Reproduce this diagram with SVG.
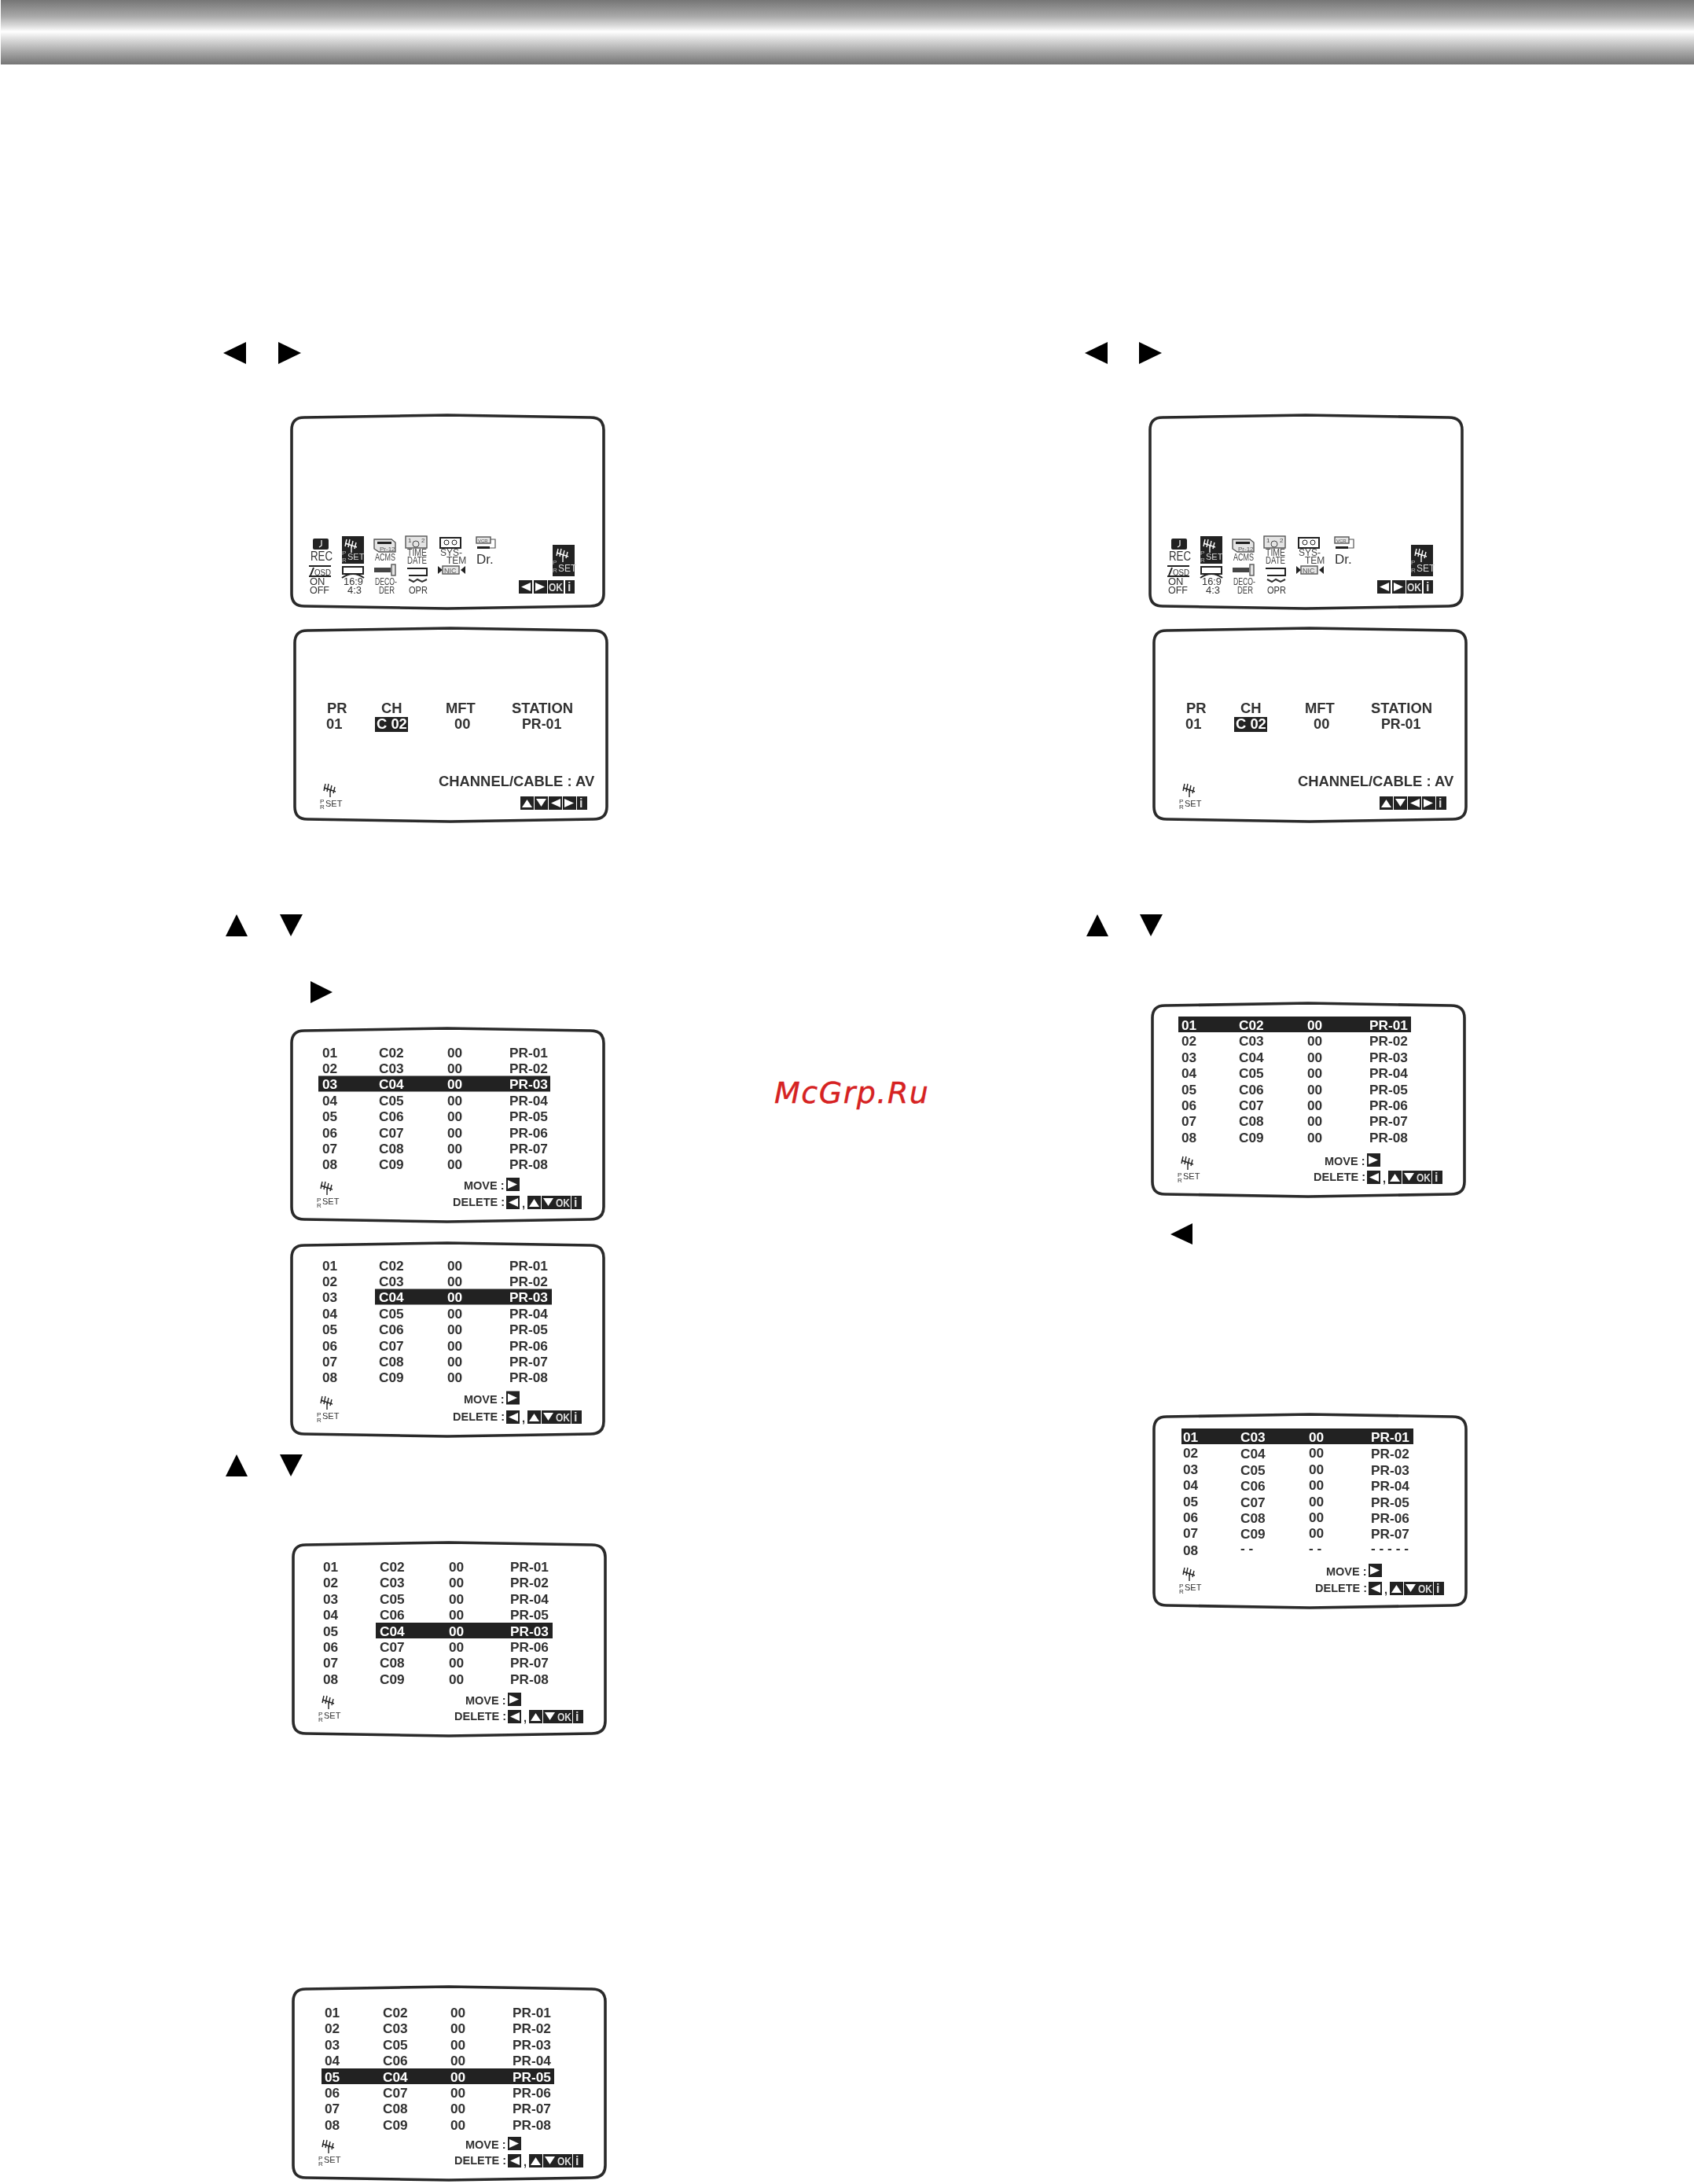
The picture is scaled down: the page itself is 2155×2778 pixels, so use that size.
<svg xmlns="http://www.w3.org/2000/svg" xmlns:xlink="http://www.w3.org/1999/xlink" width="2155" height="2778" viewBox="0 0 2155 2778">
<style>
text{font-family:"Liberation Sans",Arial,sans-serif;fill:#303030}
.f{fill:#fff;stroke:#2a2a2a;stroke-width:3.6;stroke-linejoin:round}
.r{font-size:17.3px;font-weight:700}
.w{fill:#fff}
.m{font-size:14.5px;font-weight:700}
.h{font-size:18.4px;font-weight:700}
.t{font-size:11px}
.p{font-size:8px}
.k{fill:#222}
.ow{font-size:15px;font-weight:700;fill:#ddd}
.iw{font-size:16px;font-weight:700;fill:#ddd}
.ic{font-size:13px;fill:#333}
.lt{font-size:12px;fill:#444}
.ln{fill:none;stroke:#222;stroke-width:2}
.lg{fill:#e4e4e4;stroke:#555;stroke-width:1.4}
</style>
<defs>
<linearGradient id="band" x1="0" y1="0" x2="0" y2="1">
<stop offset="0" stop-color="#757575"/><stop offset=".25" stop-color="#a8a8a8"/><stop offset=".41" stop-color="#dedede"/><stop offset=".49" stop-color="#fff"/><stop offset=".6" stop-color="#dedede"/><stop offset=".8" stop-color="#a8a8a8"/><stop offset="1" stop-color="#757575"/>
</linearGradient>
<filter id="soft" x="-2%" y="-2%" width="104%" height="104%"><feGaussianBlur stdDeviation="0.55"/></filter>
<path id="frame" class="f" d="M17 5L199 2L381 5Q398 5 398 21L398 229Q398 245 381 245L199 248L17 245Q1 245 1 229L1 21Q1 5 17 5Z"/>
<g id="ant" fill="none" stroke="currentColor" stroke-width="1.4"><path d="M1 8L16 13M9 10V20M3 3L1 12M7 3L5 13M11 5L9 14M15 7L13 15"/></g>
<g id="bU"><rect class="k" width="17" height="17"/><polygon class="w" points="2,14 8.5,4 15,14"/></g>
<g id="bD"><rect class="k" width="17" height="17"/><polygon class="w" points="2,3 15,3 8.5,13"/></g>
<g id="bL"><rect class="k" width="17" height="17"/><polygon class="w" points="15,3 15,14 3,8.5"/></g>
<g id="bR"><rect class="k" width="17" height="17"/><polygon class="w" points="2,3 2,14 14,8.5"/></g>
</defs>
<rect id="header-band" x="1" y="0" width="2154" height="82" fill="url(#band)"/>
<g id="arrows" fill="#000">
<polygon points="313,435 313,463 284,449"/><polygon points="354,435 354,463 383,449"/>
<polygon points="1409,435 1409,463 1380,449"/><polygon points="1449,435 1449,463 1478,449"/>
<polygon points="287,1191 315,1191 301,1163"/><polygon points="356,1163 385,1163 370,1191"/>
<polygon points="1382,1191 1410,1191 1396,1163"/><polygon points="1450,1163 1479,1163 1464,1191"/>
<polygon points="395,1248 395,1276 423,1262"/>
<polygon points="1517,1556 1517,1583 1489,1570"/>
<polygon points="287,1878 315,1878 301,1850"/><polygon points="356,1850 385,1850 370,1878"/>
</g>
<text id="watermark" x="985" y="1403" style="font-family:'DejaVu Sans',sans-serif;font-style:oblique;font-size:38px;letter-spacing:1.5px;fill:#d62222;stroke:#d62222;stroke-width:.4">McGrp.Ru</text>

<g id="menu-left" transform="translate(370,526)" filter="url(#soft)">
<use href="#frame"/>
<rect class="k" x="28" y="159" width="20" height="14" rx="2"/><path d="M39 161V168L36 170" fill="none" stroke="#fff" stroke-width="1.2"/>
<text class="ic" x="25" y="187" style="font-size:16px" textLength="28" lengthAdjust="spacingAndGlyphs">REC</text>
<rect class="k" x="65" y="156" width="28" height="35"/><use href="#ant" x="68" y="157" color="#fff"/>
<text class="p" x="65" y="180" style="fill:#bbb">P</text><text class="p" x="65" y="189" style="fill:#bbb">R</text><text class="t" x="72" y="186" style="fill:#ddd">SET</text>
<path class="lg" d="M106 160H128L133 164V176H112L106 172Z"/><rect class="k" x="110" y="163" width="18" height="3"/>
<text x="113" y="175" style="font-size:8px;fill:#555">Pr-12</text>
<text class="lt" x="107" y="187" textLength="26" lengthAdjust="spacingAndGlyphs">ACMS</text>
<rect class="lg" x="146" y="156" width="27" height="15"/><circle cx="159" cy="166" r="4" fill="none" stroke="#444"/>
<text x="149" y="164" style="font-size:8px;fill:#444">1</text><text x="166" y="164" style="font-size:8px;fill:#444">2</text>
<text class="lt" x="148" y="181" textLength="25" lengthAdjust="spacingAndGlyphs">TIME</text>
<text class="lt" x="148" y="191" textLength="25" lengthAdjust="spacingAndGlyphs">DATE</text>
<rect class="ln" x="190" y="158" width="26" height="13"/><circle cx="198" cy="164" r="3" fill="none" stroke="#222"/><circle cx="208" cy="164" r="3" fill="none" stroke="#222"/>
<text class="lt" x="190" y="181">SYS-</text><text class="lt" x="198" y="191">TEM</text>
<rect class="lg" x="236" y="157" width="18" height="8"/><text x="238" y="164" style="font-size:6px;fill:#555">VCR</text>
<path d="M254 160H260V171H252" fill="none" stroke="#555" stroke-width="1.2"/><rect class="k" x="237" y="169" width="16" height="3"/>
<text x="236" y="191" style="font-size:17px;fill:#333">Dr.</text>
<path class="ln" d="M23 194H51M23 207H51M25 206L29 196"/>
<text x="30" y="206" style="font-size:10px" textLength="21" lengthAdjust="spacingAndGlyphs">OSD</text>
<text class="ic" x="24" y="218">ON</text><text class="ic" x="24" y="229" textLength="25" lengthAdjust="spacingAndGlyphs">OFF</text>
<rect class="ln" x="66" y="195" width="26" height="9"/><path class="ln" d="M65 209Q79 199 93 209" stroke-width="1.6"/>
<text class="ic" x="67" y="218" textLength="25" lengthAdjust="spacingAndGlyphs">16:9</text><text class="ic" x="72" y="229">4:3</text>
<rect x="106" y="196" width="21" height="6" fill="#444"/><rect class="lg" x="128" y="192" width="5" height="14"/>
<text class="lt" x="107" y="218" textLength="28" lengthAdjust="spacingAndGlyphs">DECO-</text><text class="lt" x="112" y="229" textLength="20" lengthAdjust="spacingAndGlyphs">DER</text>
<path class="ln" d="M150 197H173V206H150M158 197H148" stroke-width="1.6"/><path d="M150 211L156 214L161 211L167 214L173 211" fill="none" stroke="#333" stroke-width="2"/>
<text class="ic" x="150" y="229" textLength="24" lengthAdjust="spacingAndGlyphs">OPR</text>
<polygon class="k" points="187,194 193,199 187,204"/><polygon class="k" points="222,194 216,199 222,204"/>
<rect class="lg" x="193" y="194" width="21" height="10"/><text x="195" y="203" style="font-size:9px;fill:#555">NIC</text>
<rect class="k" x="333" y="167" width="28" height="40"/><use href="#ant" x="337" y="169" color="#fff"/>
<text class="p" x="333" y="192" style="fill:#bbb">P</text><text class="p" x="333" y="202" style="fill:#bbb">R</text><text class="t" x="340" y="201" style="fill:#ddd;font-size:12px">SET</text>
<use href="#bL" x="290" y="212"/><use href="#bR" x="309" y="212"/>
<rect class="k" x="327" y="212" width="20" height="17"/><text class="ow" x="328" y="226" textLength="18" lengthAdjust="spacingAndGlyphs">OK</text>
<rect class="k" x="349" y="212" width="12" height="17"/><text class="iw" x="352" y="226">i</text>
</g>

<g id="menu-right" transform="translate(1462,526)" filter="url(#soft)">
<use href="#frame"/>
<rect class="k" x="28" y="159" width="20" height="14" rx="2"/><path d="M39 161V168L36 170" fill="none" stroke="#fff" stroke-width="1.2"/>
<text class="ic" x="25" y="187" style="font-size:16px" textLength="28" lengthAdjust="spacingAndGlyphs">REC</text>
<rect class="k" x="65" y="156" width="28" height="35"/><use href="#ant" x="68" y="157" color="#fff"/>
<text class="p" x="65" y="180" style="fill:#bbb">P</text><text class="p" x="65" y="189" style="fill:#bbb">R</text><text class="t" x="72" y="186" style="fill:#ddd">SET</text>
<path class="lg" d="M106 160H128L133 164V176H112L106 172Z"/><rect class="k" x="110" y="163" width="18" height="3"/>
<text x="113" y="175" style="font-size:8px;fill:#555">Pr-12</text>
<text class="lt" x="107" y="187" textLength="26" lengthAdjust="spacingAndGlyphs">ACMS</text>
<rect class="lg" x="146" y="156" width="27" height="15"/><circle cx="159" cy="166" r="4" fill="none" stroke="#444"/>
<text x="149" y="164" style="font-size:8px;fill:#444">1</text><text x="166" y="164" style="font-size:8px;fill:#444">2</text>
<text class="lt" x="148" y="181" textLength="25" lengthAdjust="spacingAndGlyphs">TIME</text>
<text class="lt" x="148" y="191" textLength="25" lengthAdjust="spacingAndGlyphs">DATE</text>
<rect class="ln" x="190" y="158" width="26" height="13"/><circle cx="198" cy="164" r="3" fill="none" stroke="#222"/><circle cx="208" cy="164" r="3" fill="none" stroke="#222"/>
<text class="lt" x="190" y="181">SYS-</text><text class="lt" x="198" y="191">TEM</text>
<rect class="lg" x="236" y="157" width="18" height="8"/><text x="238" y="164" style="font-size:6px;fill:#555">VCR</text>
<path d="M254 160H260V171H252" fill="none" stroke="#555" stroke-width="1.2"/><rect class="k" x="237" y="169" width="16" height="3"/>
<text x="236" y="191" style="font-size:17px;fill:#333">Dr.</text>
<path class="ln" d="M23 194H51M23 207H51M25 206L29 196"/>
<text x="30" y="206" style="font-size:10px" textLength="21" lengthAdjust="spacingAndGlyphs">OSD</text>
<text class="ic" x="24" y="218">ON</text><text class="ic" x="24" y="229" textLength="25" lengthAdjust="spacingAndGlyphs">OFF</text>
<rect class="ln" x="66" y="195" width="26" height="9"/><path class="ln" d="M65 209Q79 199 93 209" stroke-width="1.6"/>
<text class="ic" x="67" y="218" textLength="25" lengthAdjust="spacingAndGlyphs">16:9</text><text class="ic" x="72" y="229">4:3</text>
<rect x="106" y="196" width="21" height="6" fill="#444"/><rect class="lg" x="128" y="192" width="5" height="14"/>
<text class="lt" x="107" y="218" textLength="28" lengthAdjust="spacingAndGlyphs">DECO-</text><text class="lt" x="112" y="229" textLength="20" lengthAdjust="spacingAndGlyphs">DER</text>
<path class="ln" d="M150 197H173V206H150M158 197H148" stroke-width="1.6"/><path d="M150 211L156 214L161 211L167 214L173 211" fill="none" stroke="#333" stroke-width="2"/>
<text class="ic" x="150" y="229" textLength="24" lengthAdjust="spacingAndGlyphs">OPR</text>
<polygon class="k" points="187,194 193,199 187,204"/><polygon class="k" points="222,194 216,199 222,204"/>
<rect class="lg" x="193" y="194" width="21" height="10"/><text x="195" y="203" style="font-size:9px;fill:#555">NIC</text>
<rect class="k" x="333" y="167" width="28" height="40"/><use href="#ant" x="337" y="169" color="#fff"/>
<text class="p" x="333" y="192" style="fill:#bbb">P</text><text class="p" x="333" y="202" style="fill:#bbb">R</text><text class="t" x="340" y="201" style="fill:#ddd;font-size:12px">SET</text>
<use href="#bL" x="290" y="212"/><use href="#bR" x="309" y="212"/>
<rect class="k" x="327" y="212" width="20" height="17"/><text class="ow" x="328" y="226" textLength="18" lengthAdjust="spacingAndGlyphs">OK</text>
<rect class="k" x="349" y="212" width="12" height="17"/><text class="iw" x="352" y="226">i</text>
</g>

<g id="manual-left" transform="translate(374,797)" filter="url(#soft)">
<use href="#frame"/>
<text class="h" x="42" y="110">PR</text><text class="h" x="111" y="110">CH</text><text class="h" x="193" y="110">MFT</text><text class="h" x="277" y="110">STATION</text>
<text class="h" x="41" y="130">01</text><rect class="k" x="103" y="115" width="42" height="19"/><text class="h w" x="105" y="130">C 02</text><text class="h" x="204" y="130">00</text><text class="h" x="290" y="130" style="font-size:17.8px">PR-01</text>
<text class="h" x="184" y="203" style="fill:#333">CHANNEL/CABLE : AV</text>
<use href="#ant" x="37" y="197" color="#222"/><text class="p" x="33" y="225">P</text><text class="p" x="33" y="232">R</text><text class="t" x="40" y="229">SET</text>
<use href="#bU" x="288" y="216"/><use href="#bD" x="306" y="216"/><use href="#bL" x="324" y="216"/><use href="#bR" x="342" y="216"/>
<rect class="k" x="360" y="216" width="13" height="17"/><text class="iw" x="363" y="230">i</text>
</g>

<g id="manual-right" transform="translate(1467,797)" filter="url(#soft)">
<use href="#frame"/>
<text class="h" x="42" y="110">PR</text><text class="h" x="111" y="110">CH</text><text class="h" x="193" y="110">MFT</text><text class="h" x="277" y="110">STATION</text>
<text class="h" x="41" y="130">01</text><rect class="k" x="103" y="115" width="42" height="19"/><text class="h w" x="105" y="130">C 02</text><text class="h" x="204" y="130">00</text><text class="h" x="290" y="130" style="font-size:17.8px">PR-01</text>
<text class="h" x="184" y="203" style="fill:#333">CHANNEL/CABLE : AV</text>
<use href="#ant" x="37" y="197" color="#222"/><text class="p" x="33" y="225">P</text><text class="p" x="33" y="232">R</text><text class="t" x="40" y="229">SET</text>
<use href="#bU" x="288" y="216"/><use href="#bD" x="306" y="216"/><use href="#bL" x="324" y="216"/><use href="#bR" x="342" y="216"/>
<rect class="k" x="360" y="216" width="13" height="17"/><text class="iw" x="363" y="230">i</text>
</g>

<g id="list-c" transform="translate(370,1306)" filter="url(#soft)">
<use href="#frame"/>
<rect class="k" x="35" y="62.5" width="295" height="20"/>
<text class="r" x="40" y="38.5">01</text><text class="r" x="112" y="38.5">C02</text><text class="r" x="199" y="38.5">00</text><text class="r" x="278" y="38.5">PR-01</text>
<text class="r" x="40" y="58.9">02</text><text class="r" x="112" y="58.9">C03</text><text class="r" x="199" y="58.9">00</text><text class="r" x="278" y="58.9">PR-02</text>
<text class="r w" x="40" y="79.3">03</text><text class="r w" x="112" y="79.3">C04</text><text class="r w" x="199" y="79.3">00</text><text class="r w" x="278" y="79.3">PR-03</text>
<text class="r" x="40" y="99.7">04</text><text class="r" x="112" y="99.7">C05</text><text class="r" x="199" y="99.7">00</text><text class="r" x="278" y="99.7">PR-04</text>
<text class="r" x="40" y="120.1">05</text><text class="r" x="112" y="120.1">C06</text><text class="r" x="199" y="120.1">00</text><text class="r" x="278" y="120.1">PR-05</text>
<text class="r" x="40" y="140.5">06</text><text class="r" x="112" y="140.5">C07</text><text class="r" x="199" y="140.5">00</text><text class="r" x="278" y="140.5">PR-06</text>
<text class="r" x="40" y="160.9">07</text><text class="r" x="112" y="160.9">C08</text><text class="r" x="199" y="160.9">00</text><text class="r" x="278" y="160.9">PR-07</text>
<text class="r" x="40" y="181.3">08</text><text class="r" x="112" y="181.3">C09</text><text class="r" x="199" y="181.3">00</text><text class="r" x="278" y="181.3">PR-08</text>
<use href="#ant" x="37" y="194" color="#222"/><text class="p" x="33" y="223">P</text><text class="p" x="33" y="230">R</text><text class="t" x="40" y="226">SET</text>
<text class="m" x="220" y="207">MOVE :</text><use href="#bR" x="274" y="192"/>
<text class="m" x="206" y="228">DELETE :</text><use href="#bL" x="274" y="215"/><text class="m" x="294" y="230">,</text>
<use href="#bU" x="301" y="215"/><use href="#bD" x="319" y="215"/><rect class="k" x="336" y="215" width="20" height="17"/><text class="ow" x="337" y="229" textLength="18" lengthAdjust="spacingAndGlyphs">OK</text><rect class="k" x="357" y="215" width="13" height="17"/><text class="iw" x="360" y="229">i</text>
</g>

<g id="list-d" transform="translate(370,1579)" filter="url(#soft)">
<use href="#frame"/>
<rect class="k" x="107" y="60.5" width="225" height="20"/>
<text class="r" x="40" y="36.5">01</text><text class="r" x="112" y="36.5">C02</text><text class="r" x="199" y="36.5">00</text><text class="r" x="278" y="36.5">PR-01</text>
<text class="r" x="40" y="56.9">02</text><text class="r" x="112" y="56.9">C03</text><text class="r" x="199" y="56.9">00</text><text class="r" x="278" y="56.9">PR-02</text>
<text class="r" x="40" y="77.3">03</text><text class="r w" x="112" y="77.3">C04</text><text class="r w" x="199" y="77.3">00</text><text class="r w" x="278" y="77.3">PR-03</text>
<text class="r" x="40" y="97.7">04</text><text class="r" x="112" y="97.7">C05</text><text class="r" x="199" y="97.7">00</text><text class="r" x="278" y="97.7">PR-04</text>
<text class="r" x="40" y="118.1">05</text><text class="r" x="112" y="118.1">C06</text><text class="r" x="199" y="118.1">00</text><text class="r" x="278" y="118.1">PR-05</text>
<text class="r" x="40" y="138.5">06</text><text class="r" x="112" y="138.5">C07</text><text class="r" x="199" y="138.5">00</text><text class="r" x="278" y="138.5">PR-06</text>
<text class="r" x="40" y="158.9">07</text><text class="r" x="112" y="158.9">C08</text><text class="r" x="199" y="158.9">00</text><text class="r" x="278" y="158.9">PR-07</text>
<text class="r" x="40" y="179.3">08</text><text class="r" x="112" y="179.3">C09</text><text class="r" x="199" y="179.3">00</text><text class="r" x="278" y="179.3">PR-08</text>
<use href="#ant" x="37" y="194" color="#222"/><text class="p" x="33" y="223">P</text><text class="p" x="33" y="230">R</text><text class="t" x="40" y="226">SET</text>
<text class="m" x="220" y="205.500">MOVE :</text><use href="#bR" x="274" y="190.500"/>
<text class="m" x="206" y="228">DELETE :</text><use href="#bL" x="274" y="215"/><text class="m" x="294" y="230">,</text>
<use href="#bU" x="301" y="215"/><use href="#bD" x="319" y="215"/><rect class="k" x="336" y="215" width="20" height="17"/><text class="ow" x="337" y="229" textLength="18" lengthAdjust="spacingAndGlyphs">OK</text><rect class="k" x="357" y="215" width="13" height="17"/><text class="iw" x="360" y="229">i</text>
</g>

<g id="list-e" transform="translate(372,1960)" filter="url(#soft)">
<use href="#frame"/>
<rect class="k" x="106" y="104" width="225" height="20"/>
<text class="r" x="39" y="39">01</text><text class="r" x="111" y="39">C02</text><text class="r" x="199" y="39">00</text><text class="r" x="277" y="39">PR-01</text>
<text class="r" x="39" y="59.4">02</text><text class="r" x="111" y="59.4">C03</text><text class="r" x="199" y="59.4">00</text><text class="r" x="277" y="59.4">PR-02</text>
<text class="r" x="39" y="79.8">03</text><text class="r" x="111" y="79.8">C05</text><text class="r" x="199" y="79.8">00</text><text class="r" x="277" y="79.8">PR-04</text>
<text class="r" x="39" y="100.2">04</text><text class="r" x="111" y="100.2">C06</text><text class="r" x="199" y="100.2">00</text><text class="r" x="277" y="100.2">PR-05</text>
<text class="r" x="39" y="120.6">05</text><text class="r w" x="111" y="120.6">C04</text><text class="r w" x="199" y="120.6">00</text><text class="r w" x="277" y="120.6">PR-03</text>
<text class="r" x="39" y="141">06</text><text class="r" x="111" y="141">C07</text><text class="r" x="199" y="141">00</text><text class="r" x="277" y="141">PR-06</text>
<text class="r" x="39" y="161.4">07</text><text class="r" x="111" y="161.4">C08</text><text class="r" x="199" y="161.4">00</text><text class="r" x="277" y="161.4">PR-07</text>
<text class="r" x="39" y="181.8">08</text><text class="r" x="111" y="181.8">C09</text><text class="r" x="199" y="181.8">00</text><text class="r" x="277" y="181.8">PR-08</text>
<use href="#ant" x="37" y="194" color="#222"/><text class="p" x="33" y="223">P</text><text class="p" x="33" y="230">R</text><text class="t" x="40" y="226">SET</text>
<text class="m" x="220" y="208">MOVE :</text><use href="#bR" x="274" y="193"/>
<text class="m" x="206" y="228">DELETE :</text><use href="#bL" x="274" y="215"/><text class="m" x="294" y="230">,</text>
<use href="#bU" x="301" y="215"/><use href="#bD" x="319" y="215"/><rect class="k" x="336" y="215" width="20" height="17"/><text class="ow" x="337" y="229" textLength="18" lengthAdjust="spacingAndGlyphs">OK</text><rect class="k" x="357" y="215" width="13" height="17"/><text class="iw" x="360" y="229">i</text>
</g>

<g id="list-f" transform="translate(372,2525)" filter="url(#soft)">
<use href="#frame"/>
<rect class="k" x="37" y="106" width="296" height="20"/>
<text class="r" x="41" y="41">01</text><text class="r" x="115" y="41">C02</text><text class="r" x="201" y="41">00</text><text class="r" x="280" y="41">PR-01</text>
<text class="r" x="41" y="61.4">02</text><text class="r" x="115" y="61.4">C03</text><text class="r" x="201" y="61.4">00</text><text class="r" x="280" y="61.4">PR-02</text>
<text class="r" x="41" y="81.8">03</text><text class="r" x="115" y="81.8">C05</text><text class="r" x="201" y="81.8">00</text><text class="r" x="280" y="81.8">PR-03</text>
<text class="r" x="41" y="102.2">04</text><text class="r" x="115" y="102.2">C06</text><text class="r" x="201" y="102.2">00</text><text class="r" x="280" y="102.2">PR-04</text>
<text class="r w" x="41" y="122.6">05</text><text class="r w" x="115" y="122.6">C04</text><text class="r w" x="201" y="122.6">00</text><text class="r w" x="280" y="122.6">PR-05</text>
<text class="r" x="41" y="143">06</text><text class="r" x="115" y="143">C07</text><text class="r" x="201" y="143">00</text><text class="r" x="280" y="143">PR-06</text>
<text class="r" x="41" y="163.4">07</text><text class="r" x="115" y="163.4">C08</text><text class="r" x="201" y="163.4">00</text><text class="r" x="280" y="163.4">PR-07</text>
<text class="r" x="41" y="183.8">08</text><text class="r" x="115" y="183.8">C09</text><text class="r" x="201" y="183.8">00</text><text class="r" x="280" y="183.8">PR-08</text>
<use href="#ant" x="37" y="194" color="#222"/><text class="p" x="33" y="223">P</text><text class="p" x="33" y="230">R</text><text class="t" x="40" y="226">SET</text>
<text class="m" x="220" y="208">MOVE :</text><use href="#bR" x="274" y="193"/>
<text class="m" x="206" y="228">DELETE :</text><use href="#bL" x="274" y="215"/><text class="m" x="294" y="230">,</text>
<use href="#bU" x="301" y="215"/><use href="#bD" x="319" y="215"/><rect class="k" x="336" y="215" width="20" height="17"/><text class="ow" x="337" y="229" textLength="18" lengthAdjust="spacingAndGlyphs">OK</text><rect class="k" x="357" y="215" width="13" height="17"/><text class="iw" x="360" y="229">i</text>
</g>

<g id="list-i" transform="translate(1465,1274)" filter="url(#soft)">
<use href="#frame"/>
<rect class="k" x="34" y="19" width="296" height="20"/>
<text class="r w" x="38" y="36">01</text><text class="r w" x="111" y="36">C02</text><text class="r w" x="198" y="36">00</text><text class="r w" x="277" y="36">PR-01</text>
<text class="r" x="38" y="56.4">02</text><text class="r" x="111" y="56.4">C03</text><text class="r" x="198" y="56.4">00</text><text class="r" x="277" y="56.4">PR-02</text>
<text class="r" x="38" y="76.8">03</text><text class="r" x="111" y="76.8">C04</text><text class="r" x="198" y="76.8">00</text><text class="r" x="277" y="76.8">PR-03</text>
<text class="r" x="38" y="97.2">04</text><text class="r" x="111" y="97.2">C05</text><text class="r" x="198" y="97.2">00</text><text class="r" x="277" y="97.2">PR-04</text>
<text class="r" x="38" y="117.6">05</text><text class="r" x="111" y="117.6">C06</text><text class="r" x="198" y="117.6">00</text><text class="r" x="277" y="117.6">PR-05</text>
<text class="r" x="38" y="138">06</text><text class="r" x="111" y="138">C07</text><text class="r" x="198" y="138">00</text><text class="r" x="277" y="138">PR-06</text>
<text class="r" x="38" y="158.4">07</text><text class="r" x="111" y="158.4">C08</text><text class="r" x="198" y="158.4">00</text><text class="r" x="277" y="158.4">PR-07</text>
<text class="r" x="38" y="178.8">08</text><text class="r" x="111" y="178.8">C09</text><text class="r" x="198" y="178.8">00</text><text class="r" x="277" y="178.8">PR-08</text>
<use href="#ant" x="37" y="194" color="#222"/><text class="p" x="33" y="223">P</text><text class="p" x="33" y="230">R</text><text class="t" x="40" y="226">SET</text>
<text class="m" x="220" y="208">MOVE :</text><use href="#bR" x="274" y="193"/>
<text class="m" x="206" y="228">DELETE :</text><use href="#bL" x="274" y="215"/><text class="m" x="294" y="230">,</text>
<use href="#bU" x="301" y="215"/><use href="#bD" x="319" y="215"/><rect class="k" x="336" y="215" width="20" height="17"/><text class="ow" x="337" y="229" textLength="18" lengthAdjust="spacingAndGlyphs">OK</text><rect class="k" x="357" y="215" width="13" height="17"/><text class="iw" x="360" y="229">i</text>
</g>

<g id="list-j" transform="translate(1467,1797)" filter="url(#soft)">
<use href="#frame"/>
<rect class="k" x="36" y="20" width="295" height="20"/>
<text class="r w" x="38" y="37">01</text><text class="r w" x="111" y="37">C03</text><text class="r w" x="198" y="37">00</text><text class="r w" x="277" y="37">PR-01</text>
<text class="r" x="38" y="57.4">02</text><text class="r" x="111" y="58.4">C04</text><text class="r" x="198" y="57.4">00</text><text class="r" x="277" y="58.4">PR-02</text>
<text class="r" x="38" y="77.8">03</text><text class="r" x="111" y="78.8">C05</text><text class="r" x="198" y="77.8">00</text><text class="r" x="277" y="78.8">PR-03</text>
<text class="r" x="38" y="98.2">04</text><text class="r" x="111" y="99.2">C06</text><text class="r" x="198" y="98.2">00</text><text class="r" x="277" y="99.2">PR-04</text>
<text class="r" x="38" y="118.6">05</text><text class="r" x="111" y="119.6">C07</text><text class="r" x="198" y="118.6">00</text><text class="r" x="277" y="119.6">PR-05</text>
<text class="r" x="38" y="139">06</text><text class="r" x="111" y="140">C08</text><text class="r" x="198" y="139">00</text><text class="r" x="277" y="140">PR-06</text>
<text class="r" x="38" y="159.4">07</text><text class="r" x="111" y="160.4">C09</text><text class="r" x="198" y="159.4">00</text><text class="r" x="277" y="160.4">PR-07</text>
<text class="r" x="38" y="181">08</text><text class="r" x="111" y="178">- -</text><text class="r" x="198" y="178">- -</text><text class="r" x="277" y="178">- - - - -</text>
<use href="#ant" x="37" y="194" color="#222"/><text class="p" x="33" y="223">P</text><text class="p" x="33" y="230">R</text><text class="t" x="40" y="226">SET</text>
<text class="m" x="220" y="207">MOVE :</text><use href="#bR" x="274" y="192"/>
<text class="m" x="206" y="228">DELETE :</text><use href="#bL" x="274" y="215"/><text class="m" x="294" y="230">,</text>
<use href="#bU" x="301" y="215"/><use href="#bD" x="319" y="215"/><rect class="k" x="336" y="215" width="20" height="17"/><text class="ow" x="337" y="229" textLength="18" lengthAdjust="spacingAndGlyphs">OK</text><rect class="k" x="357" y="215" width="13" height="17"/><text class="iw" x="360" y="229">i</text>
</g>
</svg>
